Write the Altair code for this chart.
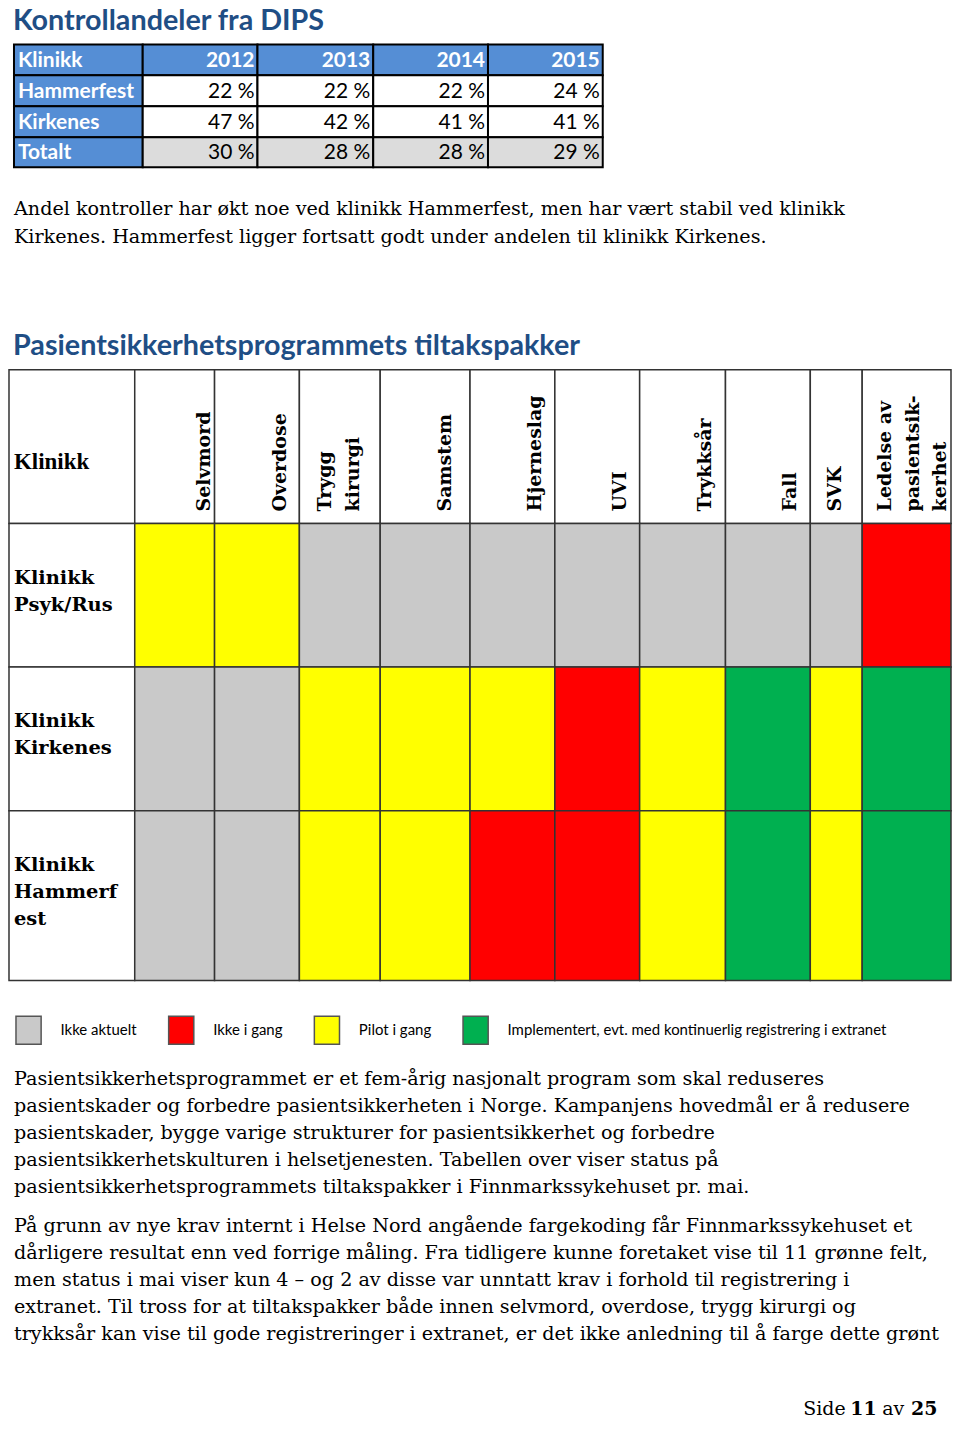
import altair as alt
import pandas as pd

# ------------------------------------------------------------------ data
TITLE_1 = "Kontrollandeler fra DIPS"
TABLE_HEADER = ["Klinikk", "2012", "2013", "2014", "2015"]
TABLE_ROWS = ["Hammerfest", "Kirkenes", "Totalt"]
HAMMERFEST = [22, 22, 22, 24]
KIRKENES = [47, 42, 41, 41]
TOTALT = [30, 28, 28, 29]

PARA_1 = [
    "Andel kontroller har økt noe ved klinikk Hammerfest, men har vært stabil ved klinikk",
    "Kirkenes. Hammerfest ligger fortsatt godt under andelen til klinikk Kirkenes.",
]

TITLE_2 = "Pasientsikkerhetsprogrammets tiltakspakker"
GRID_CORNER = "Klinikk"
PACKAGES = ["Selvmord", "Overdose", "Trygg\nkirurgi", "Samstem", "Hjerneslag",
            "UVI", "Trykksår", "Fall", "SVK", "Ledelse av\npasientsik-\nkerhet"]
CLINICS = ["Klinikk\nPsyk/Rus", "Klinikk\nKirkenes", "Klinikk\nHammerf\nest"]

STATUS_LABELS = ["Ikke aktuelt", "Ikke i gang", "Pilot i gang",
                 "Implementert, evt. med kontinuerlig registrering i extranet"]
NA, NO, PILOT, IMPL = STATUS_LABELS
STATUS_PSYK = [PILOT, PILOT, NA, NA, NA, NA, NA, NA, NA, NO]
STATUS_KIRKENES = [NA, NA, PILOT, PILOT, PILOT, NO, PILOT, IMPL, PILOT, IMPL]
STATUS_HAMMERFEST = [NA, NA, PILOT, PILOT, NO, NO, PILOT, IMPL, PILOT, IMPL]

PARA_2 = [
    "Pasientsikkerhetsprogrammet er et fem-årig nasjonalt program som skal reduseres",
    "pasientskader og forbedre pasientsikkerheten i Norge. Kampanjens hovedmål er å redusere",
    "pasientskader, bygge varige strukturer for pasientsikkerhet og forbedre",
    "pasientsikkerhetskulturen i helsetjenesten. Tabellen over viser status på",
    "pasientsikkerhetsprogrammets tiltakspakker i Finnmarkssykehuset pr. mai.",
]
PARA_3 = [
    "På grunn av nye krav internt i Helse Nord angående fargekoding får Finnmarkssykehuset et",
    "dårligere resultat enn ved forrige måling. Fra tidligere kunne foretaket vise til 11 grønne felt,",
    "men status i mai viser kun 4 – og 2 av disse var unntatt krav i forhold til registrering i",
    "extranet. Til tross for at tiltakspakker både innen selvmord, overdose, trygg kirurgi og",
    "trykksår kan vise til gode registreringer i extranet, er det ikke anledning til å farge dette grønt",
]
FOOTER_REGULAR = ["Side", "av"]
FOOTER_BOLD = ["11", "25"]

# ------------------------------------------------------------------ layout (page pixels)
OFF = 8
W, H = 946, 1413
TAB_X = [14, 143, 258, 374, 489, 604]
TAB_Y = [43, 74, 105, 136, 166]
GRID_X = [9, 135, 215, 300, 381, 471, 556, 641, 727, 812, 864, 953]
GRID_Y = [369, 523, 667, 811, 981]
HEAD_BASE_X = [210, 287, 332, 452, 542, 627, 712, 798, 843, 893]
HEAD_START_Y = 511
ROW_LABEL_BASE_Y = [584, 727, 871]
FOOT_REG_X = [805, 884]
FOOT_BOLD_X = [852, 913]
FOOT_BASE_Y = 1416

BLUE_HEAD = "#1F4E85"
TABLE_BLUE = "#558ED5"
SANS = "Lato"
SERIF = "DejaVu Serif"
BODY_SIZE = 19.2


def c(v):
    return v - OFF


SX = alt.Scale(domain=[0, W], nice=False, zero=False)
SY = alt.Scale(domain=[0, H], reverse=True, nice=False, zero=False)


def X(f):
    return alt.X(f"{f}:Q", scale=SX, axis=None)


def Y(f):
    return alt.Y(f"{f}:Q", scale=SY, axis=None)


# ------------------------------------------------------------------ top table
rows = [TABLE_HEADER] + [[name] + [f"{v} %" for v in vals]
                         for name, vals in zip(TABLE_ROWS, [HAMMERFEST, KIRKENES, TOTALT])]
cells = []
for r, row in enumerate(rows):
    for ci, txt in enumerate(row):
        if r == 0 or ci == 0:
            kind = "head"
        elif row[0] == "Totalt":
            kind = "total"
        else:
            kind = "body"
        cells.append(dict(text=txt, kind=kind, col=ci,
                          x0=c(TAB_X[ci]), x1=c(TAB_X[ci + 1]),
                          y0=c(TAB_Y[r]), y1=c(TAB_Y[r + 1]),
                          xl=c(TAB_X[ci]) + 4, xr=c(TAB_X[ci + 1]) - 3,
                          ym=c((TAB_Y[r] + TAB_Y[r + 1]) / 2) + 1))
tab = pd.DataFrame(cells)

tab_rects = alt.Chart(tab).mark_rect(stroke="#000", strokeWidth=2).encode(
    x=X("x0"), x2="x1", y=Y("y0"), y2="y1",
    fill=alt.Fill("kind:N", scale=alt.Scale(domain=["head", "body", "total"],
                                              range=[TABLE_BLUE, "#FFFFFF", "#DCDCDC"]),
                  legend=None),
)
tab_head_left = alt.Chart(tab[(tab.kind == "head") & (tab.col == 0)]).mark_text(
    align="left", baseline="middle", font=SANS, fontSize=21, fontWeight="bold", color="#FFFFFF"
).encode(x=X("xl"), y=Y("ym"), text="text:N")
tab_head_right = alt.Chart(tab[(tab.kind == "head") & (tab.col > 0)]).mark_text(
    align="right", baseline="middle", font=SANS, fontSize=21, fontWeight="bold", color="#FFFFFF"
).encode(x=X("xr"), y=Y("ym"), text="text:N")
tab_vals = alt.Chart(tab[tab.kind != "head"]).mark_text(
    align="right", baseline="middle", font=SANS, fontSize=21, color="#000000"
).encode(x=X("xr"), y=Y("ym"), text="text:N")

# ------------------------------------------------------------------ grid
grid = []
for r, statuses in enumerate([STATUS_PSYK, STATUS_KIRKENES, STATUS_HAMMERFEST]):
    for ci, st in enumerate(statuses):
        grid.append(dict(status=st, x0=c(GRID_X[ci + 1]), x1=c(GRID_X[ci + 2]),
                         y0=c(GRID_Y[r + 1]), y1=c(GRID_Y[r + 2])))
grid = pd.DataFrame(grid)

frame = []
for ci in range(len(PACKAGES) + 1):
    frame.append(dict(x0=c(GRID_X[ci]), x1=c(GRID_X[ci + 1]), y0=c(GRID_Y[0]), y1=c(GRID_Y[1])))
for r in range(len(CLINICS)):
    frame.append(dict(x0=c(GRID_X[0]), x1=c(GRID_X[1]), y0=c(GRID_Y[r + 1]), y1=c(GRID_Y[r + 2])))
frame = pd.DataFrame(frame)

grid_frame = alt.Chart(frame).mark_rect(fill="#FFFFFF", stroke="#333333", strokeWidth=1.5).encode(
    x=X("x0"), x2="x1", y=Y("y0"), y2="y1")

grid_cells = alt.Chart(grid).mark_rect(stroke="#333333", strokeWidth=1.5).encode(
    x=X("x0"), x2="x1", y=Y("y0"), y2="y1",
    color=alt.Color("status:N",
                    scale=alt.Scale(domain=STATUS_LABELS,
                                    range=["#C9C9C9", "#FF0000", "#FFFF00", "#00B050"]),
                    legend=alt.Legend(title=None, orient="none", legendX=5.6, legendY=1008,
                                      direction="horizontal", columns=4,
                                      symbolType="M-0.9,-1H0.9V1H-0.9Z", symbolSize=784,
                                      symbolStrokeColor="#555555", symbolStrokeWidth=1.5,
                                      symbolOpacity=1,
                                      labelOffset=17, columnPadding=28, labelLimit=700,
                                      labelFont=SANS, labelFontSize=15, labelColor="#000000",
                                      padding=0)),
)

heads = pd.DataFrame(dict(text=PACKAGES, bx=[c(v) for v in HEAD_BASE_X],
                          by=[c(HEAD_START_Y)] * len(PACKAGES)))
grid_heads = alt.Chart(heads).mark_text(
    angle=270, align="left", baseline="alphabetic", font=SERIF, fontSize=19,
    fontWeight="bold", color="#000000", lineBreak="\n", lineHeight=27.5
).encode(x=X("bx"), y=Y("by"), text="text:N")

rowlab = pd.DataFrame(dict(text=CLINICS, bx=[c(14)] * 3, by=[c(v) for v in ROW_LABEL_BASE_Y]))
grid_rows = alt.Chart(rowlab).mark_text(
    align="left", baseline="alphabetic", font=SERIF, fontSize=19.5, fontWeight="bold",
    color="#000000", lineBreak="\n", lineHeight=27
).encode(x=X("bx"), y=Y("by"), text="text:N")

corner = alt.Chart(pd.DataFrame(dict(text=[GRID_CORNER], bx=[c(14)], by=[c(468)]))).mark_text(
    align="left", baseline="alphabetic", font="Liberation Serif", fontSize=23, fontWeight="bold",
    color="#000000"
).encode(x=X("bx"), y=Y("by"), text="text:N")


# ------------------------------------------------------------------ texts
def text_block(lines, x, y, font, size, weight="normal", color="#000000", lh=27):
    return alt.Chart(pd.DataFrame(dict(t=["\n".join(lines)]))).mark_text(
        align="left", baseline="alphabetic", font=font, fontSize=size, fontWeight=weight,
        color=color, lineBreak="\n", lineHeight=lh
    ).encode(x=alt.value(c(x)), y=alt.value(c(y)), text="t:N")


title1 = text_block([TITLE_1], 13, 29, SANS, 28.8, "bold", BLUE_HEAD)
para1 = text_block(PARA_1, 14, 214, SERIF, BODY_SIZE, lh=28)
title2 = text_block([TITLE_2], 13, 354, SANS, 28.8, "bold", BLUE_HEAD)
para2 = text_block(PARA_2, 14, 1086, SERIF, BODY_SIZE)
para3 = text_block(PARA_3, 14, 1233, SERIF, BODY_SIZE)

foot_reg = alt.Chart(pd.DataFrame(dict(t=FOOTER_REGULAR, bx=[c(v) for v in FOOT_REG_X],
                                       by=[c(FOOT_BASE_Y)] * 2))).mark_text(
    align="left", baseline="alphabetic", font=SERIF, fontSize=19, color="#000000"
).encode(x=X("bx"), y=Y("by"), text="t:N")
foot_bold = alt.Chart(pd.DataFrame(dict(t=FOOTER_BOLD, bx=[c(v) for v in FOOT_BOLD_X],
                                        by=[c(FOOT_BASE_Y)] * 2))).mark_text(
    align="left", baseline="alphabetic", font=SERIF, fontSize=19, fontWeight="bold",
    color="#000000"
).encode(x=X("bx"), y=Y("by"), text="t:N")

chart = alt.layer(
    tab_rects, tab_head_left, tab_head_right, tab_vals,
    grid_frame, grid_cells, grid_heads, grid_rows, corner,
    title1, para1, title2, para2, para3, foot_reg, foot_bold,
).properties(
    width=W, height=H, padding=0, background="#FFFFFF",
    autosize=alt.AutoSizeParams(type="none"),
).configure_view(stroke=None)

chart.save("out.html", embed_options={"renderer": "svg", "actions": False})
